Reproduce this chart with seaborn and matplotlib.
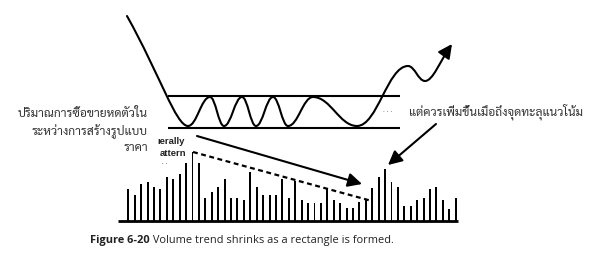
import matplotlib
matplotlib.use("Agg")
import matplotlib.pyplot as plt
import seaborn as sns
import pandas as pd
from matplotlib import font_manager
from matplotlib.path import Path
from matplotlib.patches import FancyArrowPatch, PathPatch

# ---------------- data ----------------
# relative trading volume per session
volume = [32, 26, 37, 39, 34, 32, 44, 42, 47, 58, 69, 58, 23, 29, 34, 42,
          23, 23, 21, 49, 34, 26, 26, 26, 42, 23, 40, 21, 18, 18, 18, 32,
          21, 18, 13, 13, 19, 21, 33, 44, 52, 39, 34, 15, 15, 21, 23, 32,
          34, 21, 12, 23]
session = list(range(len(volume)))

# price path (schematic): start, then turning points (x, y in drawing units, y down)
price_start = (127, 17)
turn_x = [188, 210, 224, 242, 256, 273, 288, 313, 357, 408, 425]
turn_y = [127, 98, 127, 98, 127, 98, 127, 98, 127, 67, 82]
breakout_end = (452, 45)

# rectangle boundaries
rect_top, rect_bottom = 97, 128.5
rect_x = (168, 400)

left_label = ["ปริมาณการซื้อขายหดตัวใน", "ระหว่างการสร้างรูปแบบ", "ราคา"]
right_label = "แต่ควรเพิ่มขึ้นเมื่อถึงจุดทะลุแนวโน้ม"
caption_bold = "Figure 6-20"
caption_rest = "Volume trend shrinks as a rectangle is formed."

# ---------------- fonts ----------------
sns.set_theme(style="white")
avail = {f.name for f in font_manager.fontManager.ttflist}
thai_font = next((f for f in ["Sarabun", "Noto Sans Thai Looped", "Noto Sans Thai",
                              "Prompt", "Kanit"] if f in avail), "DejaVu Sans")
latin_font = "Open Sans" if "Open Sans" in avail else "DejaVu Sans"
plt.rcParams["font.family"] = [latin_font, "DejaVu Sans"]

W, H = 600, 255
fig = plt.figure(figsize=(6, 2.55), dpi=100)
fig.patch.set_facecolor("white")

# ---------------- volume bars ----------------
x0_px, step_px = 128.3, 6.42
base_px, vol_h_px = 222, 90
ax_vol = fig.add_axes([0, (H - base_px) / H, 1, vol_h_px / H])
df = pd.DataFrame({"session": session, "volume": volume})
sns.barplot(data=df, x="session", y="volume", color="black", width=0.3,
            saturation=1, ax=ax_vol, linewidth=0)
ax_vol.set_xlim(-x0_px / step_px, (W - x0_px) / step_px)
ax_vol.set_ylim(0, vol_h_px)
ax_vol.plot([-1.6, 51.3], [0, 0], color="black", lw=2.0, clip_on=False,
            solid_capstyle="butt")
ax_vol.axis("off")
ax_vol.patch.set_alpha(0)

# ---------------- overlay drawing axes (drawing units = pixels) ----------------
ax = fig.add_axes([0, 0, 1, 1])
ax.set_xlim(0, W)
ax.set_ylim(H, 0)
ax.axis("off")
ax.patch.set_alpha(0)

# rectangle
for yy in (rect_top, rect_bottom):
    ax.plot(rect_x, [yy, yy], color="black", lw=1.5, solid_capstyle="butt")

# price path with smooth curves between turning points
verts = [price_start, (160, 76), (176, turn_y[0]), (turn_x[0], turn_y[0])]
codes = [Path.MOVETO, Path.CURVE4, Path.CURVE4, Path.CURVE4]
k = 0.4
for i in range(len(turn_x) - 1):
    xa, ya, xb, yb = turn_x[i], turn_y[i], turn_x[i + 1], turn_y[i + 1]
    dx = xb - xa
    verts += [(xa + k * dx, ya), (xb - k * dx, yb), (xb, yb)]
    codes += [Path.CURVE4] * 3
ax.add_patch(PathPatch(Path(verts, codes), fill=False, lw=1.5, color="black",
                       capstyle="round", joinstyle="round"))
xa, ya = turn_x[-1], turn_y[-1]
tail = Path([(xa, ya), (xa + 8, ya), (440, 62), breakout_end],
            [Path.MOVETO, Path.CURVE4, Path.CURVE4, Path.CURVE4])
ax.add_patch(FancyArrowPatch(path=tail, arrowstyle="-|>,head_length=0.7,head_width=0.35",
                             mutation_scale=12, lw=1.5, color="black"))

# volume trend dashed line
ax.plot([193, 370], [153, 201.5], color="black", lw=1.6, ls=(0, (2.2, 1.6)))

# arrows
ax.annotate("", xy=(362, 185), xytext=(197, 137),
            arrowprops=dict(arrowstyle="-|>,head_length=0.7,head_width=0.35",
                            mutation_scale=12, lw=1.5, color="black",
                            shrinkA=0, shrinkB=0))
ax.annotate("", xy=(388, 166), xytext=(436, 125),
            arrowprops=dict(arrowstyle="-|>,head_length=0.7,head_width=0.35",
                            mutation_scale=12, lw=1.5, color="black",
                            shrinkA=0, shrinkB=0))

# leftover label fragments
frag_font = ["Liberation Sans", "DejaVu Sans"]
ax.text(157, 142, "ıerally", fontsize=6.8, fontweight="bold", color="#222222",
        va="center", ha="left", family=frag_font)
ax.text(160, 153.5, "attern", fontsize=6.8, fontweight="bold", color="#222222",
        va="center", ha="left", family=frag_font)
ax.text(162, 163, ". .", fontsize=5, color="#444444", va="center", ha="left")

# Thai labels
for txt, yy in zip(left_label, [114.5, 131.5, 148.5]):
    ax.text(148, yy, txt, fontsize=8.7, color="#333333", ha="right", va="center",
            family=[thai_font, "DejaVu Sans"])
ax.text(383, 113, "· · ·", fontsize=5, color="#555555", ha="left", va="center")
ax.text(409, 112, right_label, fontsize=8.7, color="#333333", ha="left",
        va="center", family=[thai_font, "DejaVu Sans"])

# caption
t1 = ax.text(90, 241, caption_bold, fontsize=7.9, fontweight="bold",
             color="#222222", ha="left", va="center")
ax.annotate(" " + caption_rest, xy=(1, 0.5), xycoords=t1, fontsize=7.9,
            color="#222222", ha="left", va="center")

fig.savefig("out.png", dpi=100, facecolor="white")
